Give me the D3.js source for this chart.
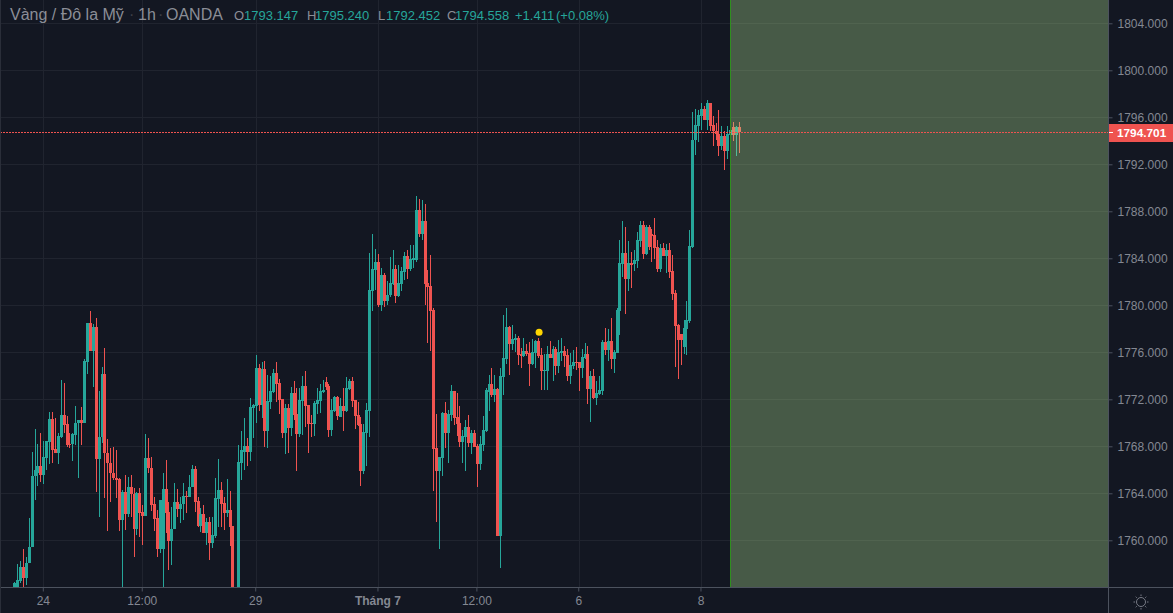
<!DOCTYPE html>
<html>
<head>
<meta charset="utf-8">
<script src="https://cdn.jsdelivr.net/npm/d3@7"></script>
<style>
  html, body { margin: 0; padding: 0; background: #131722; overflow: hidden; }
  text { font-family: "Liberation Sans", Arial, sans-serif; }
</style>
</head>
<body>
<div id="chart"></div>
<script>
// candles
const opens = [
  1755.7,1755.7,1756.56,1757.73,1756.82,1758.04,1759.46,1765.47,1765.7,1766.32,
  1765.56,1767.03,1768.39,1770.32,1767.77,1767.43,1768.82,1770.66,1769.9,1768.19,
  1768.17,1768.96,1769.95,1770.24,1769.98,1775.17,1778.49,1776.14,1778.15,1766.95,
  1768.76,1774.15,1767.4,1766.61,1765.7,1765.27,1765.19,1761.73,1764.11,1762.24,
  1764.51,1763.94,1760.96,1764,1762.41,1762.07,1767,1766.12,1763.06,1761.9,
  1759.29,1759.29,1764.34,1762.41,1759.97,1760.99,1763.26,1762.66,1763.09,1763.77,
  1763.71,1764.51,1766.07,1763.34,1761.22,1762.21,1760.65,1761.56,1759.74,1760.36,
  1763.51,1764.28,1763.15,1762.29,1762.58,1761.22,1755,1755.5,1766.62,1767.55,
  1768.03,1767.55,1771.24,1771.44,1774.67,1771.52,1774.59,1769.34,1771.81,1772.66,
  1774.25,1773.39,1772.03,1769.14,1771.27,1769.56,1772.54,1770.76,1769.05,1771.86,
  1773.14,1771.52,1769.99,1769.9,1771.61,1771.86,1772.63,1773.48,1773.14,1769.39,
  1771.01,1772.2,1770.53,1771.44,1771.01,1772.88,1773.56,1771.95,1770.67,1769.9,
  1765.93,1769.14,1771.04,1781.25,1783.01,1783.69,1780.03,1782.59,1780.37,1780.88,
  1781.82,1783.1,1780.8,1781.82,1782.87,1784.2,1783.1,1783.89,1783.86,1788.12,
  1786.08,1787.18,1781.9,1781.65,1779.61,1767.86,1765.93,1767.01,1770.84,1769.17,
  1770.67,1772.71,1770.5,1769.99,1768.37,1768.8,1769.65,1768.29,1769.14,1768.03,
  1766.5,1768.12,1769.34,1772.63,1773.3,1772.36,1772.87,1760.39,1773.92,1775.4,
  1778.15,1776.7,1777.07,1777.21,1775.82,1775.68,1776.11,1775.91,1775,1775.94,
  1776.96,1775.77,1774.41,1774.41,1775.85,1775.51,1776.28,1774.83,1775.97,1776.11,
  1775.77,1773.98,1774.83,1775.17,1775.17,1774.66,1775.51,1775.85,1772.87,1773.98,
  1772.11,1772.42,1772.7,1776.87,1776.19,1776.96,1775.43,1775.94,1779.51,1783.51,
  1784.45,1782.24,1783.6,1783.51,1783.77,1785.47,1786.83,1784.36,1786.66,1786.07,
  1785.98,1784.96,1783.09,1784.87,1784.19,1784.7,1782.92,1781.04,1778.32,1777.56,
  1776.45,1777.98,1778.66,1784.96,1794.04,1795.29,1796.14,1796.73,1795.8,1797.22,
  1795.37,1794.86,1794.61,1793.53,1794.44,1793.16,1794.52,1795.2,1794.52,1795.2
];
const closes = [
  1756.39,1756.62,1757.73,1756.82,1758.04,1759.46,1765.47,1765.98,1766.32,1765.56,
  1767.06,1768.45,1770.32,1767.68,1767.46,1768.88,1770.66,1769.81,1768.11,1768.08,
  1769.02,1769.95,1770.24,1769.98,1775.26,1778.49,1776.14,1778.15,1766.95,1768.76,
  1774.15,1767.4,1766.55,1765.7,1765.27,1765.13,1761.73,1764.11,1762.24,1764.51,
  1763.94,1760.96,1764.05,1762.35,1762.07,1767,1766.12,1763,1761.84,1759.29,
  1763.43,1764.34,1762.35,1759.97,1760.99,1763.26,1762.66,1763.09,1763.77,1763.71,
  1764.56,1766.07,1763.29,1761.22,1762.21,1760.65,1761.56,1759.74,1760.45,1763.57,
  1764.28,1763.09,1762.29,1762.58,1761.16,1755.5,1755.4,1766.66,1767.69,1768.03,
  1767.55,1771.32,1771.52,1774.67,1771.52,1774.59,1769.34,1771.86,1772.71,1774.25,
  1773.31,1771.95,1769.14,1771.27,1769.56,1772.54,1770.67,1769.05,1771.95,1773.14,
  1771.44,1769.9,1769.9,1771.69,1771.95,1772.71,1772.8,1773.08,1769.39,1771.1,
  1772.2,1770.59,1771.44,1771.01,1772.97,1773.56,1771.86,1770.59,1769.82,1765.93,
  1769.22,1771.1,1781.31,1783.1,1783.69,1780.03,1782.59,1780.37,1780.88,1781.9,
  1783.1,1780.8,1781.9,1782.93,1784.2,1783.1,1783.95,1784,1788.12,1786.08,
  1787.18,1781.82,1781.59,1779.55,1767.81,1765.93,1767.1,1770.84,1769.17,1770.76,
  1772.71,1770.42,1769.9,1768.37,1768.88,1769.65,1768.29,1769.14,1767.97,1766.5,
  1768.2,1769.39,1772.8,1773.31,1772.36,1772.87,1760.39,1773.98,1775.48,1778.15,
  1776.7,1777.13,1777.21,1775.77,1775.68,1776.11,1775.85,1775,1776,1776.96,
  1775.68,1774.41,1774.49,1775.85,1775.51,1776.28,1774.83,1776.02,1776.11,1775.68,
  1773.98,1774.92,1775.17,1775.09,1774.66,1775.6,1775.85,1772.87,1773.98,1772.11,
  1772.51,1772.79,1776.87,1776.19,1776.96,1775.43,1776.02,1779.6,1783.6,1784.45,
  1782.24,1783.6,1783.46,1783.85,1785.56,1786.83,1784.36,1786.66,1784.96,1785.92,
  1784.87,1783.09,1784.87,1784.19,1784.7,1782.83,1780.96,1778.24,1777.04,1777.04,
  1778.07,1778.75,1785.05,1794.09,1795.37,1796.22,1796.73,1795.8,1797.22,1795.29,
  1794.8,1794.61,1793.53,1794.44,1793.16,1794.61,1794.95,1794.52,1795.2,1794.75
];
const highs = [
  1756.48,1757.95,1758.24,1759.26,1758.6,1761.87,1767.48,1769.44,1768.19,1769.1,
  1768.48,1768.48,1770.95,1770.95,1770.38,1769.1,1773.64,1773.36,1770.58,1769.1,
  1769.1,1771.43,1770.24,1771.37,1775.4,1778.49,1779.51,1778.41,1778.89,1772.73,
  1774.72,1776.34,1768.59,1767.83,1767.97,1767.68,1765.27,1764.28,1765.56,1765.42,
  1765.56,1764.42,1764.14,1764.42,1763,1769.05,1768.68,1767.12,1763.71,1762.58,
  1763.43,1765.76,1766.83,1763.29,1762.86,1764.9,1764.34,1763.71,1764.85,1764.22,
  1765.56,1766.41,1766.32,1763.71,1762.72,1763,1761.87,1762.01,1762.01,1765.27,
  1766.92,1764.99,1763.71,1765.19,1764.22,1761.22,1755.6,1768.08,1769.31,1770.39,
  1768.68,1772.09,1771.61,1775.78,1775.01,1775.18,1775.27,1774.07,1773.99,1774.59,
  1775.18,1773.73,1772.03,1771.61,1771.61,1773.05,1773.56,1772.97,1772.94,1773.99,
  1774.42,1771.52,1770.67,1771.89,1772.94,1773.28,1773.65,1773.91,1773.31,1772.03,
  1772.29,1772.29,1772.12,1772.97,1773.91,1773.73,1773.91,1771.95,1771.78,1770.47,
  1769.9,1771.66,1784.46,1786.08,1784.8,1784.37,1783.18,1782.73,1782.08,1784.12,
  1784.71,1783.44,1783.44,1783.24,1784.54,1784.71,1785.14,1785.14,1789.31,1789.05,
  1788.97,1788.63,1783.01,1784.29,1779.78,1770.76,1767.1,1770.96,1771.78,1771.1,
  1773.22,1772.71,1772.54,1771.44,1769.39,1770.25,1770.67,1769.39,1769.39,1768.2,
  1768.88,1770.59,1772.94,1774.07,1774.66,1774.07,1772.96,1774.66,1779.17,1779.77,
  1778.24,1778.29,1777.56,1777.39,1776.34,1777.19,1776.7,1776.87,1777.13,1777.04,
  1777.21,1776.36,1775.85,1776.53,1776.96,1776.53,1776.45,1777.04,1777.21,1776.53,
  1776.28,1775.94,1776.19,1776.45,1775.17,1776.28,1776.76,1776.53,1774.41,1774.58,
  1773.56,1773.98,1777.04,1778.07,1777.98,1778.92,1776.19,1779.77,1785.56,1787.17,
  1786.66,1785.47,1784.53,1784.7,1786.24,1787.14,1787.14,1786.83,1786.83,1786.49,
  1787.43,1785.56,1785.22,1785.3,1785.22,1785.3,1784.28,1781.3,1778.41,1777.56,
  1778.75,1780.36,1786.41,1796.45,1796.73,1796.65,1797.22,1796.99,1797.5,1797.22,
  1796.14,1795.51,1796.65,1795.29,1794.8,1795.29,1795.23,1795.57,1795.29,1795.63
];
const lows = [
  1755.5,1755.5,1756.34,1756.05,1756.19,1758.04,1759.46,1763.43,1764.62,1764.96,
  1764.79,1765.98,1766.49,1766.55,1767.4,1766.49,1768.68,1769.1,1767.97,1767.83,
  1766.75,1768.11,1765.33,1768.11,1769.98,1774.15,1776.14,1773.07,1764.14,1762.01,
  1768.25,1763.57,1760.82,1763.29,1765.13,1763.57,1760.82,1755.5,1760.88,1762.01,
  1762.01,1758.6,1760.45,1760.31,1759.6,1762.07,1765.7,1762.52,1760.82,1758.6,
  1758.89,1755.5,1760.59,1757.47,1757.9,1760.93,1762.01,1761.5,1761.73,1762.29,
  1763.66,1764.51,1762.44,1761.16,1760.73,1760.59,1759.6,1758.32,1759.32,1760.17,
  1761.16,1761.16,1760.88,1762.01,1759.51,1755.5,1754,1755.5,1765.14,1765.99,
  1766.33,1766.79,1768.69,1770.02,1771.04,1770.44,1767.97,1767.89,1771.21,1772.52,
  1771.78,1770.76,1768.71,1767.38,1767.46,1768.91,1770.25,1765.93,1768.83,1768.97,
  1769.68,1767.46,1768.83,1768.91,1770.76,1770.87,1772.5,1772.8,1768.83,1768.88,
  1770.95,1770.25,1770.47,1769.34,1770.93,1772.8,1771.38,1769.51,1769.73,1764.66,
  1765.65,1766.33,1768.83,1779.55,1781.31,1779.89,1779.55,1779.89,1780.03,1780.74,
  1781.73,1780.2,1780.74,1781.22,1782.16,1782.25,1782.93,1783.15,1783.72,1785.85,
  1785.56,1780.03,1776.83,1776.15,1764.23,1761.59,1759.3,1765.48,1767.89,1766.62,
  1770.19,1769.82,1768.88,1767.97,1766.62,1765.93,1767.97,1767.38,1767.97,1764.57,
  1765.99,1767.64,1769.25,1771.04,1772.17,1771.77,1760.39,1757.67,1772.36,1775,
  1774.07,1776.19,1776.02,1774.92,1774.66,1775.63,1775.68,1773.13,1774.92,1774.66,
  1775.51,1772.79,1772.79,1772.79,1775.48,1773.56,1774.07,1774.24,1775.23,1774.75,
  1773.56,1773.3,1774.58,1774.49,1772.7,1773.81,1775.46,1771.6,1770.07,1772.02,
  1771.51,1772.36,1772.36,1775.77,1775.26,1774.58,1774.24,1775.94,1777.47,1782.38,
  1779.26,1781.22,1781.47,1782.92,1783.17,1784.96,1783.94,1784.28,1784.7,1783.68,
  1783.94,1782.83,1782.83,1784.19,1782.75,1782.32,1780.45,1774.75,1773.73,1774.92,
  1775.85,1775.77,1778.49,1784.9,1792.82,1793.87,1794.95,1795.74,1794.95,1794.8,
  1793.58,1794.09,1792.73,1793.24,1791.54,1792.48,1794.38,1793.95,1792.68,1792.96
];
const priceTicks = [1760,1764,1768,1772,1776,1780,1784,1788,1792,1796,1800,1804];
const timeIndex = [10,44,83,125,159,194,236];
const timeLabels = ["24","12:00","29","Tháng 7","12:00","6","8"];
const lastPrice = 1794.701;
const dotIndex = 180.2;
const dotPrice = 1777.7;
const overlayStart = 246;

const width = 1173, height = 613;
const plotW = 1108, plotH = 587;
const upColor = "#26a69a", downColor = "#ef5350";
const gridColor = "#20242f", axisColor = "#4c525e", textColor = "#848892";

const svg = d3.select("#chart").append("svg")
  .attr("width", width).attr("height", height)
  .style("display", "block");

const x = d3.scaleLinear().domain([0, opens.length - 1]).range([14.7, 739.3]);
const y = d3.scaleLinear().domain([1760, 1804]).range([540.3, 23.3]);
const px = i => Math.floor(x(i)) + 0.5;

svg.append("rect").attr("width", width).attr("height", height).attr("fill", "#131722");

svg.append("defs").append("clipPath").attr("id", "plot")
  .append("rect").attr("width", plotW).attr("height", plotH);

// grid
const grid = svg.append("g").attr("shape-rendering", "crispEdges");
grid.selectAll(".h").data(priceTicks).join("line")
  .attr("x1", 0).attr("x2", plotW)
  .attr("y1", d => Math.floor(y(d)) + 0.5).attr("y2", d => Math.floor(y(d)) + 0.5)
  .attr("stroke", gridColor);
grid.selectAll(".v").data(timeIndex).join("line")
  .attr("x1", d => px(d)).attr("x2", d => px(d))
  .attr("y1", 0).attr("y2", plotH)
  .attr("stroke", gridColor);

// candles
const candles = svg.append("g").attr("clip-path", "url(#plot)").attr("shape-rendering", "crispEdges");
const bars = candles.selectAll("g").data(opens).join("g")
  .attr("fill", (d, i) => closes[i] >= d ? upColor : downColor);
bars.append("rect")
  .attr("x", (d, i) => Math.floor(x(i)))
  .attr("width", 1)
  .attr("y", (d, i) => y(highs[i]))
  .attr("height", (d, i) => y(lows[i]) - y(highs[i]));
bars.append("rect")
  .attr("x", (d, i) => Math.floor(x(i)) - 1)
  .attr("width", 3)
  .attr("y", (d, i) => y(Math.max(d, closes[i])))
  .attr("height", (d, i) => Math.max(1, Math.abs(y(d) - y(closes[i]))));

// yellow marker
svg.append("circle")
  .attr("cx", x(dotIndex)).attr("cy", y(dotPrice)).attr("r", 3.5)
  .attr("fill", "#ffd600");

// green overlay on the right
const overlayX = Math.floor(x(overlayStart));
svg.append("rect")
  .attr("x", overlayX).attr("y", 0)
  .attr("width", plotW - overlayX).attr("height", plotH)
  .attr("fill", "rgb(182,232,150)").attr("fill-opacity", 0.32);
svg.append("line")
  .attr("x1", overlayX + 0.5).attr("x2", overlayX + 0.5)
  .attr("y1", 0).attr("y2", plotH)
  .attr("stroke", "#2f8f1f").attr("shape-rendering", "crispEdges");

// last price line
svg.append("line")
  .attr("x1", 0).attr("x2", plotW)
  .attr("y1", Math.floor(y(lastPrice)) + 0.5).attr("y2", Math.floor(y(lastPrice)) + 0.5)
  .attr("stroke", downColor).attr("stroke-dasharray", "2,1")
  .attr("shape-rendering", "crispEdges");

// axes
const yAxis = d3.axisRight(y).tickValues(priceTicks)
  .tickFormat(d3.format(".3f")).tickSize(4).tickPadding(5);
const yG = svg.append("g").attr("transform", `translate(${plotW + 0.5},0)`).call(yAxis);
yG.select(".domain").remove();
yG.selectAll("line").attr("stroke", axisColor);
yG.selectAll("text").attr("fill", textColor).attr("font-size", 12)
  .attr("font-family", "Liberation Sans, Arial, sans-serif");

const xAxis = d3.axisBottom(x).tickValues(timeIndex)
  .tickFormat((d, i) => timeLabels[i]).tickSize(4).tickPadding(5);
const xG = svg.append("g").attr("transform", `translate(-1,${plotH + 0.5})`).call(xAxis);
xG.select(".domain").remove();
xG.selectAll("line").attr("stroke", axisColor);
xG.selectAll("text").attr("fill", textColor).attr("font-size", 12)
  .attr("font-family", "Liberation Sans, Arial, sans-serif")
  .attr("font-weight", (d, i) => timeLabels[i] === "Tháng 7" ? "bold" : null);

const frame = svg.append("g").attr("stroke", axisColor).attr("shape-rendering", "crispEdges");
frame.append("line").attr("x1", plotW + 0.5).attr("x2", plotW + 0.5).attr("y1", 0).attr("y2", height);
frame.append("line").attr("x1", 0).attr("x2", width).attr("y1", plotH + 0.5).attr("y2", plotH + 0.5);
svg.append("line").attr("x1", 0.5).attr("x2", 0.5).attr("y1", 0).attr("y2", height)
  .attr("stroke", "#2a2e39").attr("shape-rendering", "crispEdges");

// price tag
const tagY = y(lastPrice);
svg.append("rect")
  .attr("x", plotW + 1).attr("y", Math.round(tagY) - 9)
  .attr("width", width - plotW - 1).attr("height", 18)
  .attr("fill", downColor);
svg.append("line")
  .attr("x1", plotW + 1).attr("x2", plotW + 5)
  .attr("y1", Math.floor(tagY) + 0.5).attr("y2", Math.floor(tagY) + 0.5)
  .attr("stroke", "#fff").attr("shape-rendering", "crispEdges");
svg.append("text")
  .attr("x", plotW + 9).attr("y", tagY + 4.5)
  .attr("fill", "#fff").attr("font-size", 11.8).attr("font-weight", "bold")
  .text(d3.format(".3f")(lastPrice));

// settings icon
const sun = svg.append("g").attr("transform", "translate(1141,602)")
  .attr("stroke", "#787b86").attr("fill", "none");
sun.append("circle").attr("r", 4.5);
sun.selectAll("line").data(d3.range(8)).join("line")
  .attr("x1", d => 6 * Math.cos(d * Math.PI / 4)).attr("y1", d => 6 * Math.sin(d * Math.PI / 4))
  .attr("x2", d => 7.5 * Math.cos(d * Math.PI / 4)).attr("y2", d => 7.5 * Math.sin(d * Math.PI / 4));

// header
const titleParts = [["Vàng / Đô la Mỹ", 10], ["1h", 138], ["OANDA", 166]];
svg.selectAll(".title").data(titleParts).join("text")
  .attr("x", d => d[1]).attr("y", 20)
  .attr("fill", "#8b8e97").attr("font-size", 16)
  .text(d => d[0]);
const titleDots = [["·", 129], ["·", 158]];
svg.selectAll(".dot").data(titleDots).join("text")
  .attr("x", d => d[1]).attr("y", 20)
  .attr("fill", "#3d4049").attr("font-size", 16)
  .text(d => d[0]);

const ohlcLetters = [["O", 234], ["H", 307], ["L", 378], ["C", 447]];
const ohlcValues = [["1793.147", 244], ["1795.240", 315], ["1792.452", 386], ["1794.558", 455], ["+1.411", 515], ["(+0.08%)", 556]];
svg.selectAll(".letter").data(ohlcLetters).join("text")
  .attr("x", d => d[1]).attr("y", 20)
  .attr("fill", "#8b8e97").attr("font-size", 13)
  .text(d => d[0]);
svg.selectAll(".value").data(ohlcValues).join("text")
  .attr("x", d => d[1]).attr("y", 20)
  .attr("fill", upColor).attr("font-size", 13)
  .text(d => d[0]);
</script>
</body>
</html>
